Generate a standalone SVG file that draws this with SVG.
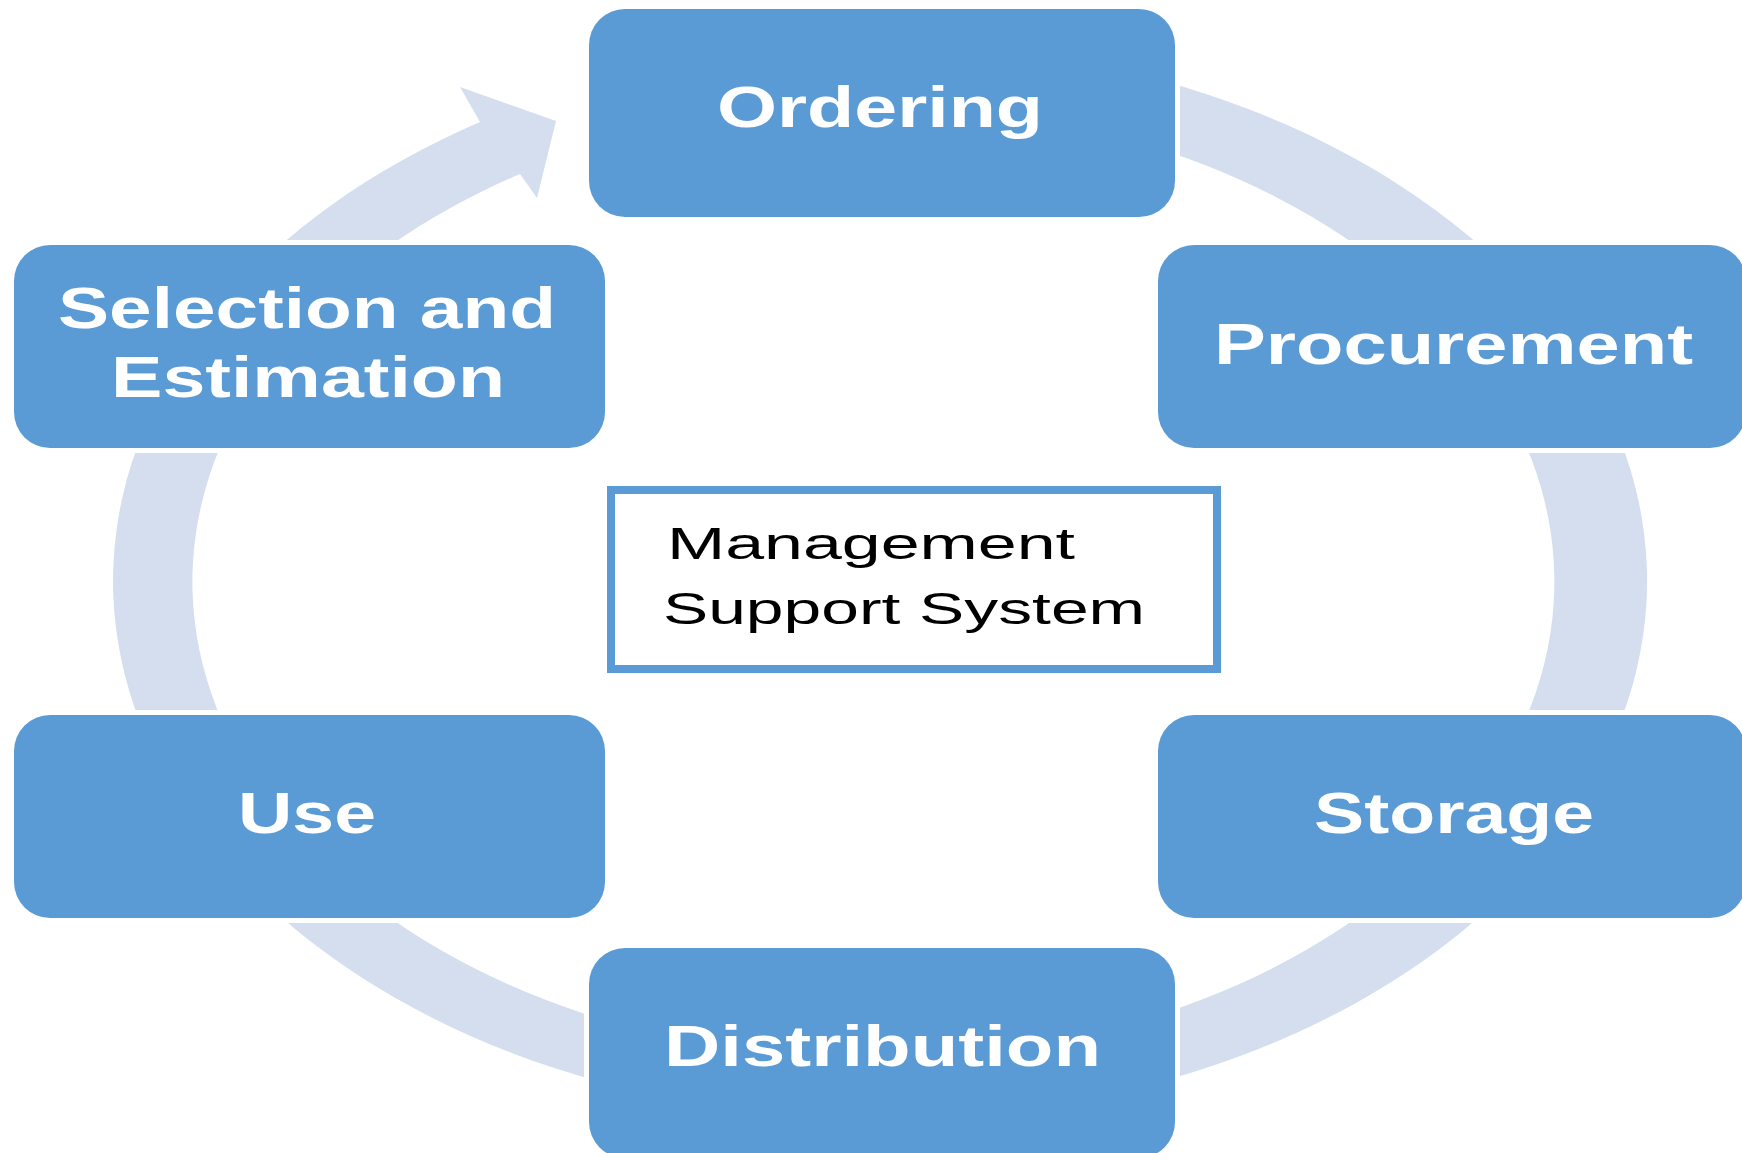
<svg xmlns="http://www.w3.org/2000/svg" width="1742" height="1153" viewBox="0 0 1742 1153">
<style>
.box{fill:#5B9BD5;stroke:#FFFFFF;stroke-width:10;paint-order:stroke fill}
.lbl{font-family:"Liberation Sans",Arial,sans-serif;font-weight:bold;font-size:57px;fill:#FFFFFF}
.ctr{font-family:"Liberation Sans",Arial,sans-serif;font-size:44px;fill:#000000}
.ring{fill:#D4DEEF;stroke:none}
</style>
<rect x="0" y="0" width="1742" height="1153" fill="#FFFFFF"/>
<g id="connectors">
<path class="ring" d="M746.8,51.2 A767,538 0 1 1 480,122 L460,87 L556,121 L537,198 L520,174 A681,477 0 1 0 761.8,111.2 Z"/>
</g>
<g id="node-ordering">
<rect class="box" x="589" y="9" width="586" height="208" rx="36"/>
<text class="lbl" x="717" y="127" textLength="326" lengthAdjust="spacingAndGlyphs">Ordering</text>
</g>
<g id="node-procurement">
<rect class="box" x="1158" y="245" width="588" height="203" rx="36"/>
<text class="lbl" x="1214" y="364" textLength="479" lengthAdjust="spacingAndGlyphs">Procurement</text>
</g>
<g id="node-storage">
<rect class="box" x="1158" y="715" width="588" height="203" rx="36"/>
<text class="lbl" x="1314" y="833" textLength="280" lengthAdjust="spacingAndGlyphs">Storage</text>
</g>
<g id="node-distribution">
<rect class="box" x="589" y="948" width="586" height="210" rx="36"/>
<text class="lbl" x="664" y="1066" textLength="437" lengthAdjust="spacingAndGlyphs">Distribution</text>
</g>
<g id="node-use">
<rect class="box" x="14" y="715" width="591" height="203" rx="36"/>
<text class="lbl" x="238" y="833" textLength="138" lengthAdjust="spacingAndGlyphs">Use</text>
</g>
<g id="node-selection">
<rect class="box" x="14" y="245" width="591" height="203" rx="36"/>
<text class="lbl" x="58" y="328" textLength="498" lengthAdjust="spacingAndGlyphs">Selection and</text>
<text class="lbl" x="111" y="397" textLength="394" lengthAdjust="spacingAndGlyphs">Estimation</text>
</g>
<g id="node-center">
<rect x="611" y="490" width="606" height="179" fill="#FFFFFF" stroke="#5B9BD5" stroke-width="8"/>
<text class="ctr" x="667" y="559" textLength="408" lengthAdjust="spacingAndGlyphs">Management</text>
<text class="ctr" x="663" y="624" textLength="482" lengthAdjust="spacingAndGlyphs">Support System</text>
</g>
</svg>
